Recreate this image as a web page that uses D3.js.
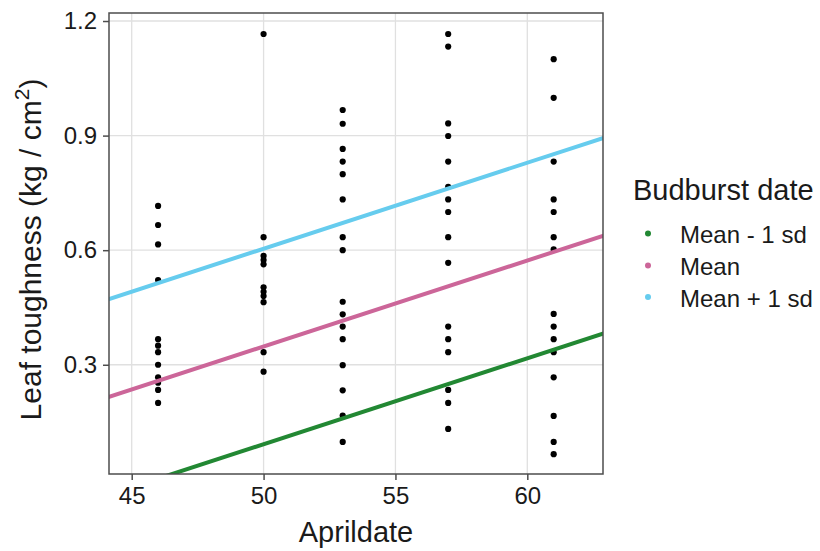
<!DOCTYPE html>
<html>
<head>
<meta charset="utf-8">
<script src="https://cdn.jsdelivr.net/npm/d3@7"></script>
<style>
  html, body { margin: 0; padding: 0; background: #fff; }
  svg { display: block; font-family: "Liberation Sans", Arial, sans-serif; }
</style>
</head>
<body>
<svg id="chart" width="820" height="551"></svg>
<script>
// Observed leaf toughness by April date of sampling
const aprilDates = [46, 50, 53, 57, 61];
const toughness46 = [0.716, 0.666, 0.615, 0.522, 0.367, 0.350, 0.333, 0.300, 0.267, 0.253, 0.234, 0.200];
const toughness50 = [1.166, 0.634, 0.585, 0.574, 0.563, 0.503, 0.491, 0.480, 0.464, 0.333, 0.282];
const toughness53 = [0.967, 0.931, 0.865, 0.832, 0.799, 0.733, 0.634, 0.600, 0.465, 0.432, 0.400, 0.367, 0.299, 0.233, 0.167, 0.098];
const toughness57 = [1.166, 1.133, 0.932, 0.899, 0.832, 0.766, 0.733, 0.700, 0.634, 0.567, 0.400, 0.367, 0.333, 0.234, 0.200, 0.132];
const toughness61 = [1.100, 0.999, 0.832, 0.733, 0.700, 0.634, 0.602, 0.433, 0.400, 0.367, 0.333, 0.267, 0.166, 0.098, 0.066];
const toughnessByDate = [toughness46, toughness50, toughness53, toughness57, toughness61];

// Model predictions at three budburst dates (endpoints of each fitted line)
const fitX = [44, 63];
const fitLow = [-0.043, 0.3845];
const fitMean = [0.213, 0.6405];
const fitHigh = [0.469, 0.8965];

const seriesNames = ["Mean - 1 sd", "Mean", "Mean + 1 sd"];
const seriesColors = ["#228833", "#CC6699", "#66CCEE"];

const xTicks = [45, 50, 55, 60];
const yTicks = [0.3, 0.6, 0.9, 1.2];

const svg = d3.select("#chart");
const panel = { left: 109, right: 603, top: 13, bottom: 474 };

const x = d3.scaleLinear().domain([44.139, 62.87]).range([panel.left, panel.right]);
const y = d3.scaleLinear().domain([0.014, 1.221]).range([panel.bottom, panel.top]);

const textColor = "#1a1a1a";

// grid
const grid = svg.append("g");
grid.selectAll("line.gx").data(xTicks).join("line")
  .attr("x1", d => x(d)).attr("x2", d => x(d))
  .attr("y1", panel.top).attr("y2", panel.bottom)
  .attr("stroke", "#e0e0e0").attr("stroke-width", 1.3);
grid.selectAll("line.gy").data(yTicks).join("line")
  .attr("y1", d => y(d)).attr("y2", d => y(d))
  .attr("x1", panel.left).attr("x2", panel.right)
  .attr("stroke", "#e0e0e0").attr("stroke-width", 1.3);

svg.append("clipPath").attr("id", "panel-clip")
  .append("rect")
  .attr("x", panel.left).attr("y", panel.top)
  .attr("width", panel.right - panel.left).attr("height", panel.bottom - panel.top);

// points
const points = [];
aprilDates.forEach((d, i) => toughnessByDate[i].forEach(v => points.push({ date: d, value: v })));
svg.append("g").selectAll("circle").data(points).join("circle")
  .attr("cx", d => x(d.date)).attr("cy", d => y(d.value))
  .attr("r", 3.1).attr("fill", "#000");

// fitted lines
const fits = [fitLow, fitMean, fitHigh];
const line = d3.line().x(d => x(d[0])).y(d => y(d[1]));
svg.append("g").attr("clip-path", "url(#panel-clip)")
  .selectAll("path").data(fits).join("path")
  .attr("d", f => line(fitX.map((xv, j) => [xv, f[j]])))
  .attr("fill", "none")
  .attr("stroke", (f, i) => seriesColors[i])
  .attr("stroke-width", 4);

// panel border
svg.append("rect")
  .attr("x", panel.left).attr("y", panel.top)
  .attr("width", panel.right - panel.left).attr("height", panel.bottom - panel.top)
  .attr("fill", "none").attr("stroke", "#4d4d4d").attr("stroke-width", 1.5);

// axes
const xAxis = svg.append("g").attr("transform", `translate(0,${panel.bottom})`)
  .call(d3.axisBottom(x).tickValues(xTicks).tickSize(6).tickPadding(7).tickFormat(d3.format("d")));
const yAxis = svg.append("g").attr("transform", `translate(${panel.left},0)`)
  .call(d3.axisLeft(y).tickValues(yTicks).tickSize(6).tickPadding(6).tickFormat(d3.format(".1f")));
[xAxis, yAxis].forEach(ax => {
  ax.select(".domain").remove();
  ax.selectAll(".tick line").attr("stroke", "#4d4d4d").attr("stroke-width", 1.5);
  ax.selectAll(".tick text").attr("fill", textColor).style("font-size", "24px")
    .style("font-family", "Liberation Sans, Arial, sans-serif");
});

// axis titles
svg.append("text")
  .attr("x", (panel.left + panel.right) / 2).attr("y", 542)
  .attr("text-anchor", "middle").attr("fill", textColor)
  .style("font-size", "29px").text("Aprildate");

const yTitle = svg.append("text")
  .attr("transform", `translate(41,${(panel.top + panel.bottom) / 2 + 6}) rotate(-90)`)
  .attr("text-anchor", "middle").attr("fill", textColor)
  .style("font-size", "30px");
yTitle.append("tspan").text("Leaf toughness (kg / cm");
yTitle.append("tspan").attr("dy", -12).style("font-size", "21px").text("2");
yTitle.append("tspan").attr("dy", 12).text(")");

// legend
const legend = svg.append("g");
legend.append("text").attr("x", 633).attr("y", 200)
  .attr("fill", textColor).style("font-size", "29px").text("Budburst date");
const itemY = [243, 275, 306.5];
seriesNames.forEach((name, i) => {
  legend.append("circle").attr("cx", 648).attr("cy", itemY[i] - 9.5).attr("r", 3)
    .attr("fill", seriesColors[i]);
  legend.append("text").attr("x", 680).attr("y", itemY[i])
    .attr("fill", textColor).style("font-size", "24px").text(name);
});
</script>
</body>
</html>
